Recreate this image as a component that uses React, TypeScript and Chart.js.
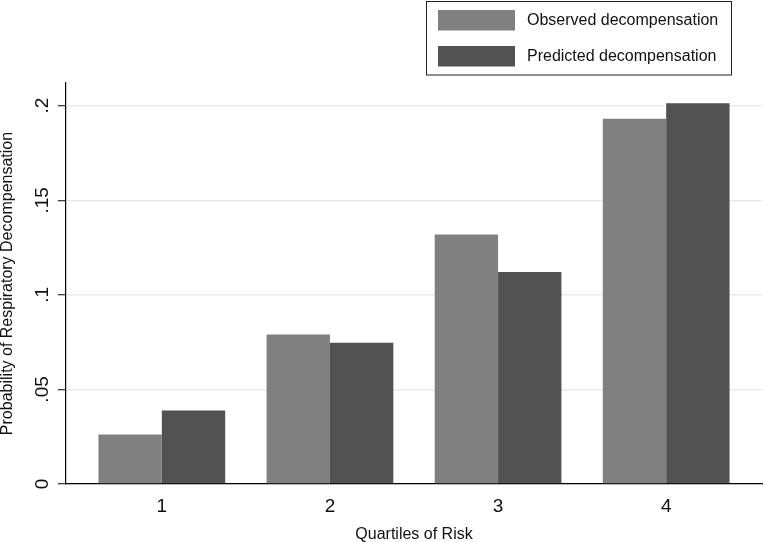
import React, { useEffect, useRef } from "react";
import { Chart, registerables } from "chart.js";

Chart.register(...registerables);

const QUARTILES = [1, 2, 3, 4];
const X_TICK_LABELS = ["1", "2", "3", "4"];
const OBSERVED = [0.0262, 0.0791, 0.1319, 0.1931];
const PREDICTED = [0.0389, 0.0747, 0.1121, 0.2013];
const Y_TICKS = [0, 0.05, 0.1, 0.15, 0.2];
const Y_TICK_LABELS = ["0", ".05", ".1", ".15", ".2"];
const SERIES_LABELS = ["Observed decompensation", "Predicted decompensation"];
const SERIES_COLORS = ["#808080", "#525252"];
const X_TITLE = "Quartiles of Risk";
const Y_TITLE = "Probability of Respiratory Decompensation";

const FONT = "'Liberation Sans', Arial, Helvetica, sans-serif";

const overlayPlugin = {
  id: "stataOverlay",
  afterDraw(chart: any) {
    const ctx = chart.ctx;
    const y = chart.scales.y;
    ctx.save();
    ctx.fillStyle = "#111";
    ctx.font = `19px ${FONT}`;
    ctx.textAlign = "center";
    ctx.textBaseline = "middle";
    Y_TICKS.forEach((v, i) => {
      const py = y.getPixelForValue(v);
      ctx.save();
      ctx.translate(43, py);
      ctx.rotate(-Math.PI / 2);
      ctx.fillText(Y_TICK_LABELS[i], 0, 0);
      ctx.restore();
    });

    // legend box
    ctx.strokeStyle = "#222";
    ctx.lineWidth = 1;
    ctx.strokeRect(426.5, 1.5, 305, 73.5);
    ctx.font = `16px ${FONT}`;
    ctx.textAlign = "left";
    const rows = [10, 46];
    chart.data.datasets.forEach((ds: any, i: number) => {
      ctx.fillStyle = ds.backgroundColor;
      ctx.fillRect(438, rows[i], 77, 20.5);
      ctx.fillStyle = "#111";
      ctx.fillText(ds.label, 527, rows[i] + 10.5);
    });
    ctx.restore();
  },
};

export default function App() {
  const canvasRef = useRef<HTMLCanvasElement | null>(null);

  useEffect(() => {
    if (!canvasRef.current) return;
    const chart = new Chart(canvasRef.current, {
      type: "bar",
      data: {
        datasets: [
          {
            label: SERIES_LABELS[0],
            data: QUARTILES.map((q, i) => ({ x: q, y: OBSERVED[i] })),
            backgroundColor: SERIES_COLORS[0],
            borderWidth: 0,
          },
          {
            label: SERIES_LABELS[1],
            data: QUARTILES.map((q, i) => ({ x: q, y: PREDICTED[i] })),
            backgroundColor: SERIES_COLORS[1],
            borderWidth: 0,
          },
        ],
      },
      options: {
        animation: false,
        responsive: false,
        categoryPercentage: 0.754,
        barPercentage: 1,
        layout: { padding: { top: 83, right: 3, left: 0, bottom: 0 } },
        plugins: {
          legend: { display: false },
          tooltip: { enabled: false },
        },
        scales: {
          x: {
            type: "linear",
            min: 0.43,
            max: 4.57,
            offset: false,
            afterBuildTicks: (s: any) => {
              s.ticks = QUARTILES.map((v) => ({ value: v }));
            },
            afterFit: (s: any) => {
              s.height = 58;
            },
            grid: { display: false, drawTicks: false },
            border: { display: true, color: "#000", width: 1.2 },
            ticks: {
              padding: 11,
              color: "#111",
              font: { family: FONT, size: 19 },
              callback: (v: any) => X_TICK_LABELS[QUARTILES.indexOf(Number(v))] ?? "",
            },
            title: {
              display: true,
              text: X_TITLE,
              color: "#111",
              font: { family: FONT, size: 16, lineHeight: 0.875 },
              padding: { top: 0, bottom: 0 },
            },
          },
          y: {
            type: "linear",
            min: 0,
            max: 0.212,
            afterBuildTicks: (s: any) => {
              s.ticks = Y_TICKS.map((v) => ({ value: v }));
            },
            afterFit: (s: any) => {
              s.width = 66;
            },
            grid: {
              display: true,
              color: "#ebebeb",
              lineWidth: 1.5,
              drawTicks: true,
              tickLength: 8,
              tickColor: "#000",
              tickWidth: 1,
            },
            border: { display: true, color: "#000", width: 1.2 },
            ticks: { display: false },
            title: {
              display: true,
              text: Y_TITLE,
              color: "#111",
              font: { family: FONT, size: 16, lineHeight: 1 },
              padding: { top: 0, bottom: 0 },
            },
          },
        },
      },
      plugins: [overlayPlugin],
    } as any);
    return () => chart.destroy();
  }, []);

  return (
    <div style={{ position: "fixed", left: 0, top: 0, width: 765, height: 542, background: "#fff" }}>
      <canvas ref={canvasRef} width={765} height={542} style={{ display: "block" }} />
    </div>
  );
}
